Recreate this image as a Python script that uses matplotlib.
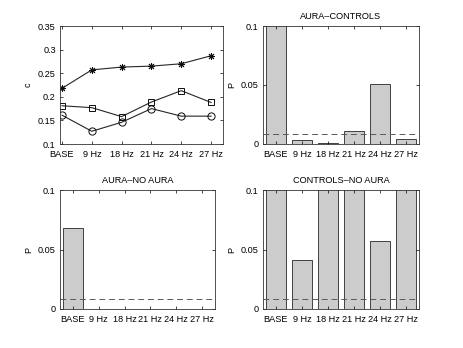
import numpy as np
import matplotlib
matplotlib.use('Agg')
import matplotlib.pyplot as plt

plt.rcParams['font.family'] = ['Liberation Sans', 'DejaVu Sans']
plt.rcParams['font.size'] = 6.6

# Data
labels = ['BASE', '9 Hz', '18 Hz', '21 Hz', '24 Hz', '27 Hz']
c_star = [0.218, 0.257, 0.263, 0.265, 0.270, 0.287]
c_square = [0.181, 0.177, 0.158, 0.189, 0.213, 0.188]
c_circle = [0.161, 0.127, 0.146, 0.175, 0.159, 0.159]

p_aura_controls = [0.2, 0.003, 0.001, 0.011, 0.051, 0.004]
p_aura_noaura = [0.068, np.nan, np.nan, np.nan, np.nan, np.nan]
p_controls_noaura = [0.2, 0.041, 0.2, 0.2, 0.057, 0.2]
threshold = 0.05 / 6

W, H = 463, 348
fig = plt.figure(figsize=(W / 100, H / 100), dpi=100)


def px_axes(left, top, right, bottom):
    return fig.add_axes([left / W, 1 - bottom / H, (right - left) / W, (bottom - top) / H])


def style(ax, width_px):
    ax.tick_params(direction='in', length=2, width=0.5, top=True, right=True,
                   labelsize=6.6)
    ax.tick_params(axis='x', pad=4)
    ax.tick_params(axis='y', pad=3)
    ax.yaxis.set_label_coords(-27 / width_px, 0.5)
    for s in ax.spines.values():
        s.set_linewidth(0.6)
        s.set_color('0.2')


x = np.arange(1, 7)

# Top-left: line plot
ax = px_axes(60, 26, 223, 144)
line_kw = dict(color='0.15', lw=0.8, mfc='none', mec='0.05', mew=0.7)
ax.plot(x, c_star, marker=(8, 2, 0), ms=5, **line_kw)
ax.plot(x, c_square, marker='s', ms=4, **line_kw)
ax.plot(x, c_circle, marker='o', ms=5.2, **line_kw)
ax.set_xlim(0.933, 6.4)
ax.set_ylim(0.1, 0.35)
ax.set_yticks([0.1, 0.15, 0.2, 0.25, 0.3, 0.35])
ax.set_yticklabels(['0.1', '0.15', '0.2', '0.25', '0.3', '0.35'])
ax.set_xticks(x)
ax.set_xticklabels(labels)
ax.set_ylabel('c')
style(ax, 163)


def bar_panel(rect, vals, title):
    ax = px_axes(*rect)
    ax.bar(x, vals, width=0.8, color='0.8', edgecolor='0.15', linewidth=0.6)
    ax.axhline(threshold, color='0.35', lw=0.7, ls=(0, (6, 4)))
    ax.set_xlim(0.5, 6.5)
    ax.set_ylim(0, 0.1)
    ax.set_yticks([0, 0.05, 0.1])
    ax.set_yticklabels(['0', '0.05', '0.1'])
    ax.set_xticks(x)
    ax.set_xticklabels(labels)
    ax.set_ylabel('P')
    ax.set_title(title, fontsize=6.6, pad=5)
    style(ax, rect[2] - rect[0])
    return ax


bar_panel((263, 26, 419, 144), p_aura_controls, 'AURA\u2013CONTROLS')
bar_panel((60, 190, 215, 309), p_aura_noaura, 'AURA\u2013NO AURA')
bar_panel((263, 190, 419, 309), p_controls_noaura, 'CONTROLS\u2013NO AURA')

fig.savefig('out.png', dpi=100)
